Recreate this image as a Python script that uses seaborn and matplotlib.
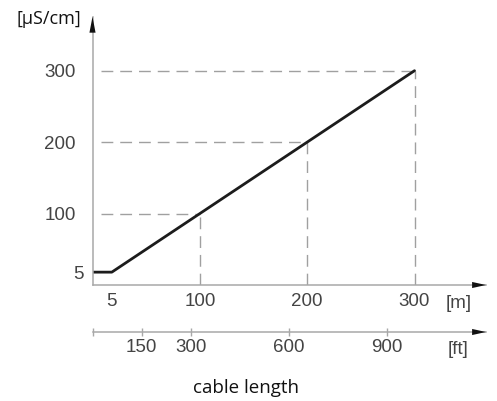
import numpy as np
import matplotlib
matplotlib.use("Agg")
import matplotlib.pyplot as plt
import matplotlib.transforms as mtransforms
import seaborn as sns

# ---- data ----
length_m = [0, 5, 300]          # cable length [m]
conductivity = [5, 5, 300]      # minimum conductivity [µS/cm]
ref_values = [100, 200, 300]    # dashed guide points
m_ticks = [5, 100, 200, 300]
m_labels = ["5", "100", "200", "300"]
y_ticks = [5, 100, 200, 300]
y_labels = ["5", "100", "200", "300"]
ft_ticks = [0, 150, 300, 600, 900]
ft_labels = ["", "150", "300", "600", "900"]
FT_PER_M = 3.28084

sns.set_theme(style="white")
plt.rcParams["font.family"] = ["Liberation Sans", "DejaVu Sans"]

W, H = 497, 401
fig = plt.figure(figsize=(W / 100, H / 100), dpi=100)

# broken scale near zero (schematic): 5 is drawn further out
brk_in = [-1000, 0, 5, 100, 10000]
brk_out = [-1000, 0, 18, 100, 10000]
fwd = lambda v: np.interp(v, brk_in, brk_out)
inv = lambda u: np.interp(u, brk_out, brk_in)

x0, y0 = 92.5, 285.0
ax = fig.add_axes([x0 / W, (H - y0) / H, (486 - x0) / W, (y0 - 16.7) / H])
ax.set_xscale("function", functions=(fwd, inv))
ax.set_yscale("function", functions=(fwd, inv))

sns.lineplot(x=length_m, y=conductivity, ax=ax, color="#1c1c1c", lw=2.0,
             estimator=None, sort=False)
ax.set_xlim(0, 366.6)
ax.set_ylim(0, 375.6)
ax.set_xlabel("")
ax.set_ylabel("")

guide = dict(color="#a0a0a0", lw=1.0, linestyle=(0, (8.5, 5)))
for v in ref_values:
    ax.plot([inv(7.6), v], [v, v], **guide, zorder=1)
    ax.plot([v, v], [0, v], **guide, zorder=1)

for s in ["top", "right"]:
    ax.spines[s].set_visible(False)
for s in ["left", "bottom"]:
    ax.spines[s].set_color("#a8a8a8")
    ax.spines[s].set_linewidth(1.1)

txt_col = "#444444"
fs = 13.5
ax.set_xticks(m_ticks)
ax.set_xticklabels(m_labels)
ax.set_yticks(y_ticks)
ax.set_yticklabels(y_labels)
ax.tick_params(axis="x", length=0, pad=6, labelsize=fs, labelcolor=txt_col)
ax.tick_params(axis="y", length=0, pad=12, labelsize=fs, labelcolor=txt_col)
# "5" on the y axis sits closer to the axis
for lab in ax.get_yticklabels():
    if lab.get_text() == "5":
        lab.set_transform(lab.get_transform() +
                          mtransforms.ScaledTranslation(8 / 100, 0, fig.dpi_scale_trans))

head_col = "#111111"
ax.annotate("", xy=(1, 0), xycoords="axes fraction", xytext=(-14, 0),
            textcoords="offset pixels",
            arrowprops=dict(arrowstyle="-|>,head_length=1.0,head_width=0.22",
                            mutation_scale=10, color=head_col, lw=0,
                            shrinkA=0, shrinkB=0), annotation_clip=False)
ax.annotate("", xy=(0, 1), xycoords="axes fraction", xytext=(0, -16),
            textcoords="offset pixels",
            arrowprops=dict(arrowstyle="-|>,head_length=1.15,head_width=0.22",
                            mutation_scale=10, color=head_col, lw=0,
                            shrinkA=0, shrinkB=0), annotation_clip=False)

# feet axis
yft = 332.0
axf = fig.add_axes([x0 / W, (H - yft) / H, (486 - x0) / W, 0.0001])
axf.set_xlim(-0.5, 366.6 * FT_PER_M)
axf.set_ylim(0, 1)
for s in ["top", "right", "left"]:
    axf.spines[s].set_visible(False)
axf.spines["bottom"].set_color("#a8a8a8")
axf.spines["bottom"].set_linewidth(1.1)
axf.set_yticks([])
axf.set_xticks(ft_ticks)
axf.set_xticklabels(ft_labels)
axf.tick_params(axis="x", bottom=True, direction="inout", length=6, width=1.0,
                color="#a8a8a8", pad=2, labelsize=fs, labelcolor=txt_col)
axf.patch.set_visible(False)
axf.annotate("", xy=(1, 0), xycoords="axes fraction", xytext=(-14, 0),
             textcoords="offset pixels",
             arrowprops=dict(arrowstyle="-|>,head_length=1.0,head_width=0.22",
                             mutation_scale=10, color=head_col, lw=0,
                             shrinkA=0, shrinkB=0), annotation_clip=False)

# unit labels
fig.text(446 / W, 1 - 303 / H, "[m]", fontsize=fs, color=txt_col,
         ha="left", va="center")
fig.text(448 / W, 1 - 349 / H, "[ft]", fontsize=fs, color=txt_col,
         ha="left", va="center")
fig.text(16 / W, 1 - 18.5 / H, "[µS/cm]", fontsize=13, color="#111111",
         ha="left", va="center", family=["Open Sans", "DejaVu Sans"])
fig.text(246 / W, 1 - 393 / H, "cable length", fontsize=13.5, color="#111111",
         ha="center", va="baseline", family=["Open Sans", "DejaVu Sans"])

fig.savefig("out.png", dpi=100)
